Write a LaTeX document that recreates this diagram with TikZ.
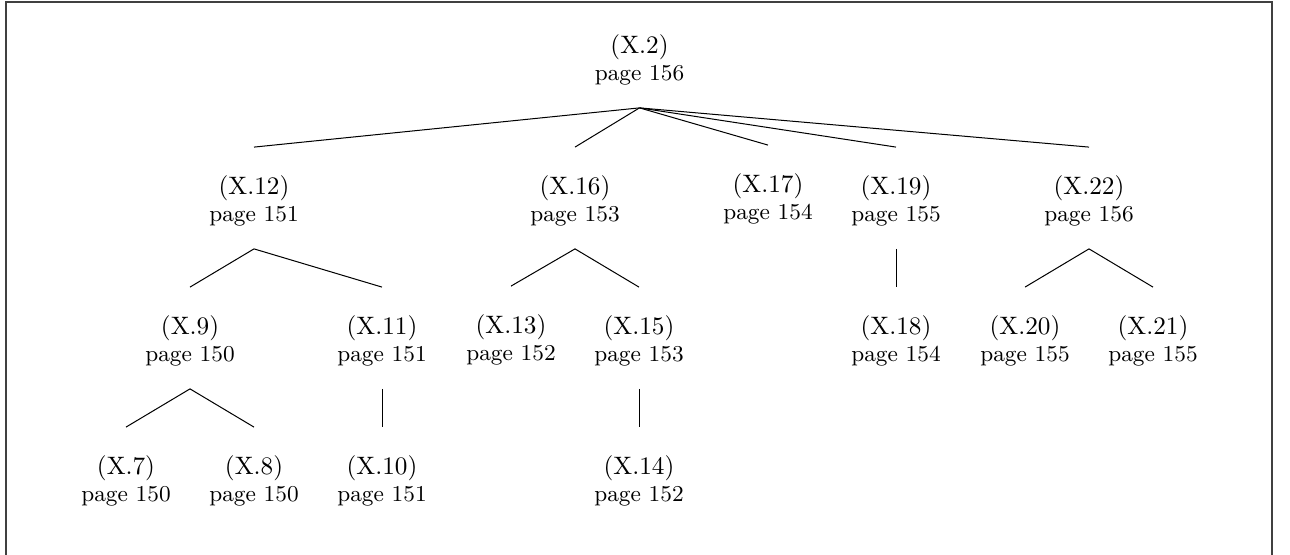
\documentclass[tikz,border=0pt]{standalone}
\newcommand{\itm}[2]{\rule{0pt}{9.5pt}(X.#1)\\[-1.3pt]\small page #2}
\begin{document}
\begin{tikzpicture}[x=0.39690pt,y=-0.39690pt,
  item/.style={align=center,inner sep=0pt,minimum height=40pt,font=\normalsize},
  edge/.style={line width=0.4pt},
  frame/.style={line width=0.5pt,draw=black!75}]
\useasboundingbox (0,0) rectangle (1290,555);
\draw[frame] (6,560) -- (6,2) -- (1272,2) -- (1272,560);
% level 0
\node[item] (x2)  at (639.5,57) {\itm{2}{156}};
% level 1
\node[item] (x12) at (254,198) {\itm{12}{151}};
\node[item] (x16) at (575,198) {\itm{16}{153}};
\node[item] (x17) at (768,196) {\itm{17}{154}};
\node[item] (x19) at (896,198) {\itm{19}{155}};
\node[item] (x22) at (1089,198) {\itm{22}{156}};
% level 2
\node[item] (x9)  at (190,338) {\itm{9}{150}};
\node[item] (x11) at (382,338) {\itm{11}{151}};
\node[item] (x13) at (511,337) {\itm{13}{152}};
\node[item] (x15) at (639,338) {\itm{15}{153}};
\node[item] (x18) at (896,338) {\itm{18}{154}};
\node[item] (x20) at (1025,338) {\itm{20}{155}};
\node[item] (x21) at (1153,338) {\itm{21}{155}};
% level 3
\node[item] (x7)  at (126,478) {\itm{7}{150}};
\node[item] (x8)  at (254,478) {\itm{8}{150}};
\node[item] (x10) at (382,478) {\itm{10}{151}};
\node[item] (x14) at (639,478) {\itm{14}{152}};
% edges
\draw[edge] (x2.south) -- (x12.north);
\draw[edge] (x2.south) -- (x16.north);
\draw[edge] (x2.south) -- (x17.north);
\draw[edge] (x2.south) -- (x19.north);
\draw[edge] (x2.south) -- (x22.north);
\draw[edge] (x12.south) -- (x9.north);
\draw[edge] (x12.south) -- (x11.north);
\draw[edge] (x16.south) -- (x13.north);
\draw[edge] (x16.south) -- (x15.north);
\draw[edge] (x19.south) -- (x18.north);
\draw[edge] (x22.south) -- (x20.north);
\draw[edge] (x22.south) -- (x21.north);
\draw[edge] (x9.south) -- (x7.north);
\draw[edge] (x9.south) -- (x8.north);
\draw[edge] (x11.south) -- (x10.north);
\draw[edge] (x15.south) -- (x14.north);
\end{tikzpicture}
\end{document}
